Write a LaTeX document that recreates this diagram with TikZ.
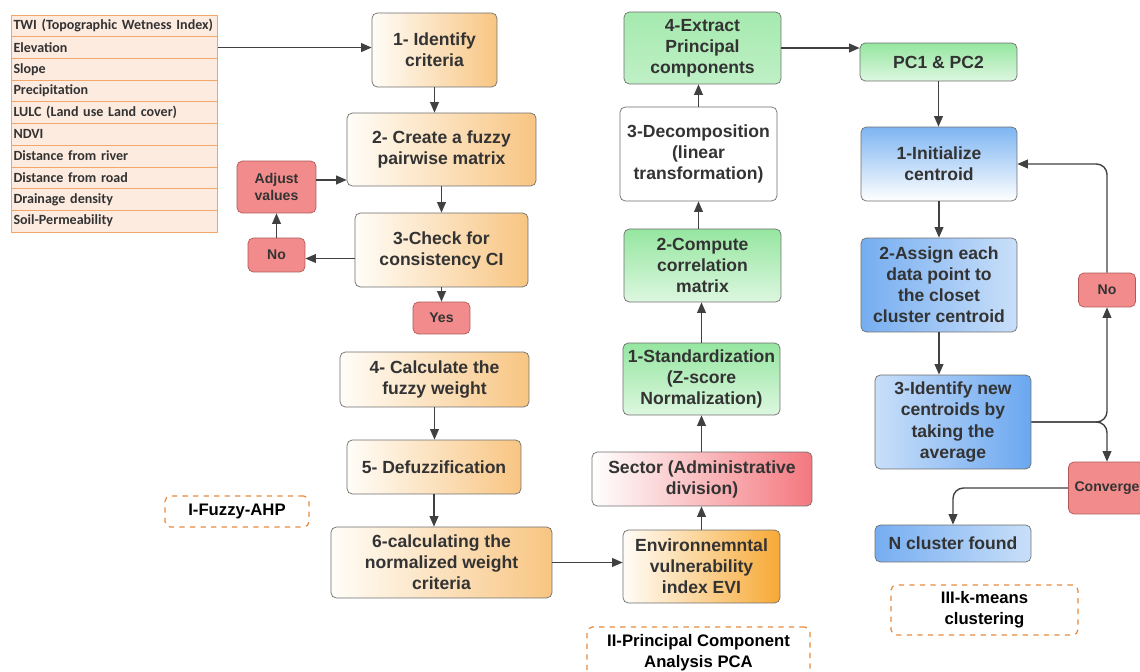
\documentclass[tikz,border=0pt]{standalone}
\usepackage{fontspec}
\setmainfont{Liberation Sans}
\newfontfamily\critfont{Carlito}
\usetikzlibrary{arrows.meta}
\definecolor{txt}{HTML}{333333}
\definecolor{boxline}{HTML}{6E6E6E}
\definecolor{linegray}{HTML}{404040}
\definecolor{ahporange}{HTML}{F8C582}
\definecolor{ahpwhite}{HTML}{FFFDF8}
\definecolor{eviorange}{HTML}{F7A935}
\definecolor{secred}{HTML}{F4787F}
\definecolor{pcagreen}{HTML}{95E6A0}
\definecolor{pcalight}{HTML}{DDF7E0}
\definecolor{kmblue}{HTML}{7DB5F2}
\definecolor{kmlight}{HTML}{C9DFF9}
\definecolor{kmdark}{HTML}{5A9DEE}
\definecolor{redfill}{HTML}{F28B8B}
\definecolor{redline}{HTML}{B05858}
\definecolor{critfill}{HTML}{FDEBE0}
\definecolor{critline}{HTML}{F2A66A}
\definecolor{tagline}{HTML}{E8893A}
\tikzset{
  box/.style={draw=boxline, rounded corners=3pt, align=center, text=txt,
    font=\fontsize{10}{12}\selectfont\bfseries, inner sep=1pt},
  ahp/.style={box, left color=ahpwhite, right color=ahporange},
  pca/.style={box, top color=pcagreen, bottom color=pcalight},
  kmleft/.style={box, left color=kmdark!75!kmlight, middle color=kmlight, right color=kmlight},
  kmright/.style={box, left color=kmlight, middle color=kmlight, right color=kmdark!85!kmlight},
  redbox/.style={box, draw=redline, fill=redfill, font=\fontsize{8}{9.5}\selectfont\bfseries},
  tag/.style={draw=tagline, dashed, line width=0.7pt, rounded corners=3pt, fill=white, align=center,
    font=\fontsize{9.5}{12}\selectfont\bfseries},
  crit/.style={draw=critline, fill=critfill, minimum width=4.1cm, minimum height=0.434cm,
    text width=4.04cm, align=left, inner xsep=1pt, inner ysep=0pt, text=txt,
    font=\critfont\fontsize{8}{9}\selectfont\bfseries},
  arr/.style={-{Triangle[length=6pt,width=5pt]}, draw=linegray, line width=0.8pt},
}
\begin{document}
\begin{tikzpicture}[x=0.02cm, y=-0.02cm]
  \useasboundingbox (0,0) rectangle (1140,672);
  % criteria list
  \foreach \lbl [count=\i] in {TWI (Topographic Wetness Index), Elevation, Slope,
      Precipitation, LULC (Land use Land cover), NDVI, Distance from river,
      Distance from road, Drainage density, Soil-Permeability}
    \node[crit] (r\i) at (114.5, {15+21.7*(\i-0.5)}) {\lbl};

  % I - fuzzy AHP
  \node[ahp, minimum width=2.5cm, minimum height=1.48cm] (b1) at (434.5,50) {1- Identify\\criteria};
  \node[ahp, minimum width=3.78cm, minimum height=1.46cm] (b2) at (441.5,149.5) {2- Create a fuzzy\\pairwise matrix};
  \node[redbox, minimum width=1.58cm, minimum height=1.04cm] (adj) at (276.5,187) {Adjust\\values};
  \node[redbox, minimum width=1.14cm, minimum height=0.68cm] (no1) at (276.5,255) {No};
  \node[ahp, minimum width=3.46cm, minimum height=1.48cm] (b3) at (441.5,250) {3-Check for\\consistency CI};
  \node[redbox, minimum width=1.14cm, minimum height=0.64cm] (yes) at (441.5,318) {Yes};
  \node[ahp, minimum width=3.78cm, minimum height=1.1cm] (b4) at (434.5,379.5) {4- Calculate the\\fuzzy weight};
  \node[ahp, minimum width=3.48cm, minimum height=1.08cm] (b5) at (434,467) {5- Defuzzification};
  \node[ahp, minimum width=4.42cm, minimum height=1.42cm] (b6) at (441.5,562.5) {6-calculating the\\normalized weight\\criteria};
  \node[tag, minimum width=2.88cm, minimum height=0.62cm] (tag1) at (237,511.5) {I-Fuzzy-AHP};

  % II - PCA
  \node[box, left color=ahpwhite, right color=eviorange, minimum width=3.14cm, minimum height=1.46cm] (evi) at (701.5,566.5) {Environnemntal\\vulnerability\\index EVI};
  \node[box, left color=white, middle color=white, right color=secred, minimum width=4.4cm, minimum height=1.08cm] (sec) at (702,479) {Sector (Administrative\\division)};
  \node[pca, minimum width=3.14cm, minimum height=1.44cm] (std) at (701.5,379) {1-Standardization\\(Z-score\\Normalization)};
  \node[pca, minimum width=3.14cm, minimum height=1.46cm] (corr) at (702.5,265.5) {2-Compute\\correlation\\matrix};
  \node[box, fill=white, minimum width=3.14cm, minimum height=1.88cm] (dec) at (698.5,154) {3-Decomposition\\(linear\\transformation)};
  \node[box, top color=pcagreen!85, bottom color=pcagreen!60, minimum width=3.14cm, minimum height=1.44cm] (ext) at (702.5,48) {4-Extract\\Principal\\components};
  \node[tag, minimum width=4.46cm, minimum height=1.04cm] (tag2) at (698.5,653) {II-Principal Component\\Analysis PCA};

  % III - k-means
  \node[pca, minimum width=3.14cm, minimum height=0.76cm] (pc) at (938.5,62) {PC1 \& PC2};
  \node[box, top color=kmblue, bottom color=white, minimum width=3.12cm, minimum height=1.48cm] (init) at (939,164) {1-Initialize\\centroid};
  \node[kmleft, minimum width=3.12cm, minimum height=1.88cm] (asg) at (939,285) {2-Assign each\\data point to\\the closet\\cluster centroid};
  \node[kmright, minimum width=3.12cm, minimum height=1.88cm] (idn) at (953,422) {3-Identify new\\centroids by\\taking the\\average};
  \node[redbox, minimum width=1.14cm, minimum height=0.68cm] (no2) at (1107,290) {No};
  \node[redbox, minimum width=1.54cm, minimum height=1.04cm] (conv) at (1107,488) {Converge};
  \node[kmleft, minimum width=3.12cm, minimum height=0.74cm] (ncl) at (953,543.5) {N cluster found};
  \node[tag, minimum width=3.74cm, minimum height=1.0cm] (tag3) at (984.5,610) {III-k-means\\clustering};

  \begin{scope}[arr]
    \draw (r2.east) -- (r2.east -| b1.west);
    \draw (b1.south) -- (b1.south |- b2.north);
    \draw (b2.south) -- (b2.south |- b3.north);
    \draw ([yshift=4pt]adj.east) -- ([yshift=4pt]adj.east -| b2.west);
    \draw (no1.north) -- (adj.south);
    \draw ([yshift=-2pt]no1.east -| b3.west) -- ([yshift=-2pt]no1.east);
    \draw (b3.south) -- (yes.north);
    \draw (b4.south) -- (b4.south |- b5.north);
    \draw (b5.south) -- (b5.south |- b6.north);
    \draw (b6.east) -- (b6.east -| evi.west);
    \draw (evi.north) -- (evi.north |- sec.south);
    \draw (evi.north |- sec.north) -- (evi.north |- std.south);
    \draw (std.north) -- (std.north |- corr.south);
    \draw (dec.south |- corr.north) -- (dec.south);
    \draw (dec.north) -- (dec.north |- ext.south);
    \draw (ext.east) -- (ext.east -| pc.west);
    \draw (pc.south) -- (pc.south |- init.north);
    \draw (init.south) -- (asg.north);
    \draw (asg.south) -- (asg.south |- idn.north);
    \draw[rounded corners=6pt] (idn.east) -| (no2.south);
    \draw[rounded corners=6pt] (idn.east) -| (conv.north);
    \draw[rounded corners=6pt] (no2.north) |- (init.east);
    \draw[rounded corners=6pt] (conv.west) -| (ncl.north);
  \end{scope}
\end{tikzpicture}
\end{document}
